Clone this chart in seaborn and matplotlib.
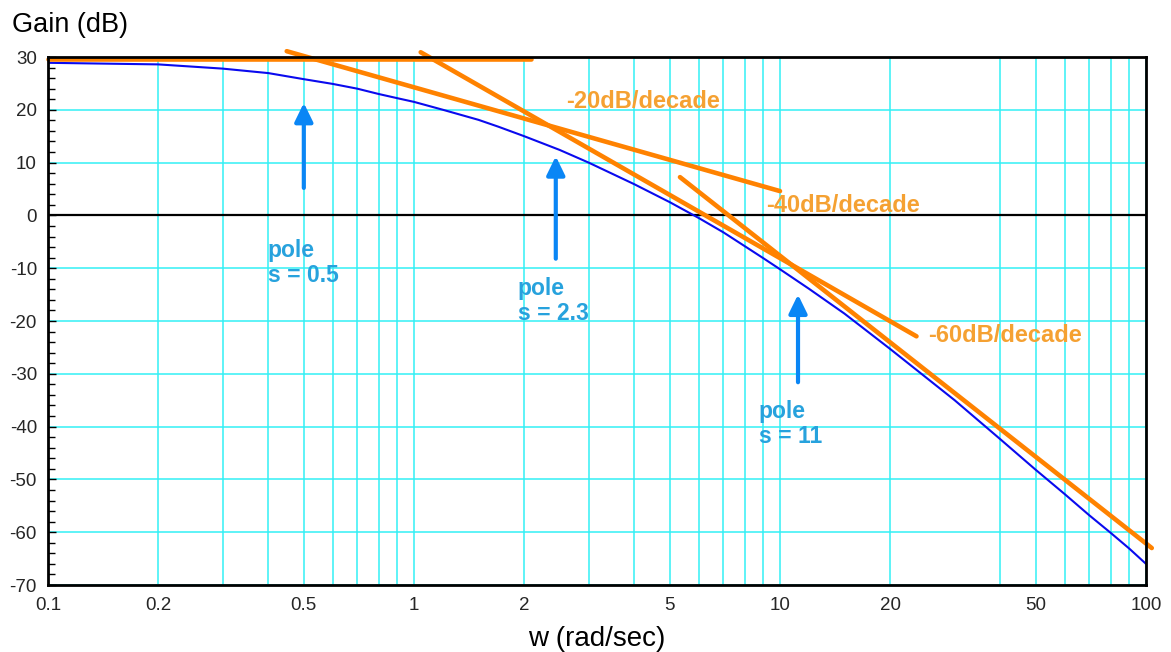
import matplotlib
matplotlib.use("Agg")
import matplotlib.pyplot as plt
import seaborn as sns
import pandas as pd

# ---- data ----
w_blue = [0.1, 0.2, 0.3, 0.4, 0.5, 0.6, 0.7, 0.8, 0.9, 1.0, 1.2, 1.5, 1.7, 2,
          2.5, 3, 4, 5, 6, 7, 8, 9, 10, 12, 15, 20, 30, 40, 50, 60, 70, 80,
          90, 100]
gain_blue = [28.9, 28.6, 27.8, 26.95, 25.8, 24.9, 24.0, 23.0, 22.2, 21.5, 20.0,
             18.1, 16.8, 15.0, 12.4, 10.0, 5.9, 2.5, -0.5, -3.2, -5.8, -8.1,
             -10.2, -13.9, -18.6, -25.3, -35.0, -42.4, -48.2, -52.8, -56.8,
             -60.1, -63.1, -66.0]

# asymptote segments (start / end)
seg_names = ["flat", "-20", "-40", "-60"]
seg_w0 = [0.1, 0.449, 1.043, 5.33]
seg_g0 = [29.7, 31.1, 30.9, 7.25]
seg_w1 = [2.09, 10.0, 23.6, 103.7]
seg_g1 = [29.7, 4.6, -22.9, -63.0]

slope_labels = ["-20dB/decade", "-40dB/decade", "-60dB/decade"]
slope_label_w = [2.60, 9.16, 25.4]
slope_label_g = [21.6, 1.9, -22.7]

pole_labels = ["pole\ns = 0.5", "pole\ns = 2.3", "pole\ns = 11"]
pole_arrow_w = [0.5, 2.44, 11.2]
pole_arrow_tail = [5.2, -8.2, -31.6]
pole_arrow_tip = [21.3, 11.2, -15.0]
pole_text_w = [0.399, 1.92, 8.76]
pole_text_g = [-4.4, -11.6, -34.9]

x_tick_vals = [0.1, 0.2, 0.5, 1, 2, 5, 10, 20, 50, 100]
x_tick_labels = ["0.1", "0.2", "0.5", "1", "2", "5", "10", "20", "50", "100"]
x_grid_extra = [0.3, 0.4, 0.6, 0.7, 0.8, 0.9, 3, 4, 6, 7, 8, 9, 40, 60, 70, 80, 90]
y_ticks = list(range(-70, 31, 10))

# ---- styling ----
sns.set_theme(style="white")
plt.rcParams["font.family"] = ["Liberation Sans", "DejaVu Sans"]
plt.rcParams["axes.unicode_minus"] = False

fig = plt.figure(figsize=(11.71, 6.52), dpi=100)
ax = fig.add_axes([48 / 1171, 1 - 585 / 652, (1146 - 48) / 1171, (585 - 57) / 652])
ax.set_xscale("log")
ax.set_xlim(0.1, 100)
ax.set_ylim(-70, 30)

GRID = "#33f0f5"
ax.set_xticks(x_tick_vals)
ax.set_xticklabels(x_tick_labels)
ax.set_xticks(x_grid_extra, minor=True)
ax.set_xticklabels([], minor=True)
ax.set_yticks(y_ticks)
ax.set_yticks(range(-70, 31, 2), minor=True)
ax.grid(True, which="major", axis="both", color=GRID, lw=1.1)
ax.grid(True, which="minor", axis="x", color=GRID, lw=1.1)
ax.tick_params(axis="x", which="both", length=0, pad=9, labelsize=13.5)
ax.tick_params(axis="y", which="major", direction="in", length=6, width=1,
               left=True, pad=8, labelsize=13.5, color="black")
ax.tick_params(axis="y", which="minor", direction="in", length=5, width=1,
               left=True, color="black")
for side, sp in ax.spines.items():
    sp.set_color("black")
    sp.set_linewidth(2.0)
    sp.set_zorder(5)

ax.axhline(0, color="black", lw=1.6, zorder=2)

# blue response
sns.lineplot(x=w_blue, y=gain_blue, ax=ax, color="#0a0aee", lw=1.5, zorder=3)

# orange asymptotes
rows = []
for n, a, b, c, d in zip(seg_names, seg_w0, seg_g0, seg_w1, seg_g1):
    rows.append({"seg": n, "w": a, "g": b})
    rows.append({"seg": n, "w": c, "g": d})
seg_df = pd.DataFrame(rows)
sns.lineplot(data=seg_df, x="w", y="g", units="seg", estimator=None, ax=ax,
             color="#ff8200", lw=3.3, clip_on=False, zorder=4,
             solid_capstyle="round")

# slope labels
for t, w, g in zip(slope_labels, slope_label_w, slope_label_g):
    ax.text(w, g, t, ha="left", va="center", fontsize=17, fontweight="bold",
            color="#f5a132", zorder=6)

# pole arrows + labels
for t, w, tail, tip, tw, tg in zip(pole_labels, pole_arrow_w, pole_arrow_tail,
                                   pole_arrow_tip, pole_text_w, pole_text_g):
    ax.annotate("", xy=(w, tip), xytext=(w, tail),
                arrowprops=dict(arrowstyle="-|>,head_length=0.45,head_width=0.22",
                                color="#0a86f5", lw=3, mutation_scale=25,
                                shrinkA=0, shrinkB=0), zorder=6)
    ax.text(tw, tg, t, ha="left", va="top", fontsize=16.5, fontweight="bold",
            color="#27a2dd", linespacing=1.15, zorder=6)

ax.set_xlabel("w (rad/sec)", fontsize=20, labelpad=8, color="black")
ax.set_ylabel("")
fig.text(12 / 1171, 1 - 25 / 652, "Gain (dB)", ha="left", va="center",
         fontsize=19.5, color="black")

fig.savefig("out.png", dpi=100)
